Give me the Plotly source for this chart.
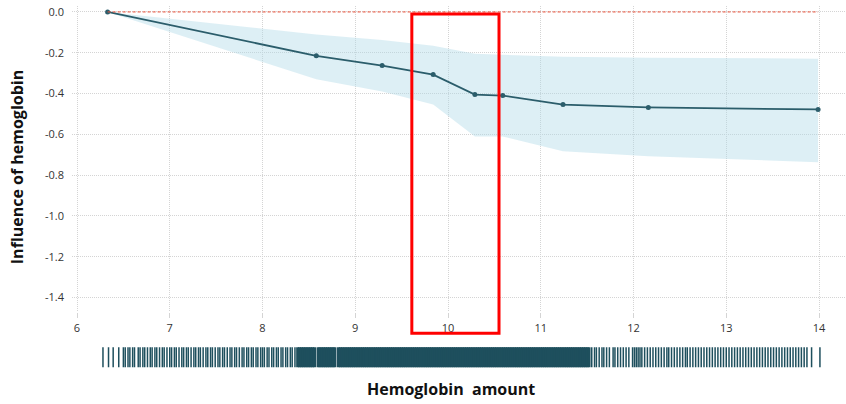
import plotly.graph_objects as go

# ---- data ----
hb_x = [6.33, 8.58, 9.29, 9.84, 10.29, 10.59, 11.24, 12.16, 13.99]
effect = [0.0, -0.215, -0.263, -0.307, -0.405, -0.41, -0.454, -0.468, -0.478]
ci_upper = [0.0, -0.11, -0.137, -0.166, -0.205, -0.21, -0.22, -0.224, -0.229]
ci_lower = [0.0, -0.33, -0.39, -0.454, -0.61, -0.61, -0.683, -0.707, -0.737]

rug_left = [6.28, 6.34, 6.39, 6.45, 6.50, 6.52, 6.55, 6.57, 6.60, 6.62, 6.66, 6.68,
            6.71, 6.73, 6.76, 6.79, 6.81, 6.84, 6.86, 6.89, 6.92, 6.94, 6.97, 7.00,
            7.02, 7.05, 7.07, 7.10, 7.13, 7.15, 7.18, 7.20, 7.23, 7.26, 7.28, 7.31,
            7.33, 7.36, 7.39, 7.41, 7.44, 7.46, 7.49, 7.52, 7.54, 7.57, 7.59, 7.62,
            7.65, 7.67, 7.70, 7.72, 7.75, 7.78, 7.80, 7.83, 7.85, 7.88, 7.90, 7.93,
            7.95, 7.98, 8.00, 8.02, 8.05, 8.07, 8.10, 8.12, 8.15, 8.17, 8.20, 8.22,
            8.25, 8.27, 8.30, 8.32, 8.35]
rug_mid = [8.38, 8.40, 8.42, 8.44, 8.46, 8.48, 8.50, 8.52, 8.54, 8.56,
           8.60, 8.62, 8.64, 8.66, 8.68, 8.70, 8.72, 8.74, 8.76, 8.78,
           8.82, 8.84, 8.86, 8.88, 8.90, 8.92, 8.94, 8.96, 8.98, 9.00,
           9.02, 9.04, 9.06, 9.08, 9.10, 9.12, 9.14, 9.16, 9.18, 9.20,
           9.22, 9.24, 9.26, 9.28, 9.30, 9.32, 9.34, 9.36, 9.38, 9.40,
           9.42, 9.44, 9.46, 9.48, 9.50, 9.52, 9.54, 9.56, 9.58, 9.60,
           9.62, 9.64, 9.66, 9.68, 9.70, 9.72, 9.74, 9.76, 9.78, 9.80,
           9.82, 9.84, 9.86, 9.88, 9.90, 9.92, 9.94, 9.96, 9.98, 10.00,
           10.02, 10.04, 10.06, 10.08, 10.10, 10.12, 10.14, 10.16, 10.18, 10.20,
           10.22, 10.24, 10.26, 10.28, 10.30, 10.32, 10.34, 10.36, 10.38, 10.40,
           10.42, 10.44, 10.46, 10.48, 10.50, 10.52, 10.54, 10.56, 10.58, 10.60,
           10.62, 10.64, 10.66, 10.68, 10.70, 10.72, 10.74, 10.76, 10.78, 10.80,
           10.82, 10.84, 10.86, 10.88, 10.90, 10.92, 10.94, 10.96, 10.98, 11.00,
           11.02, 11.04, 11.06, 11.08, 11.10, 11.12, 11.14, 11.16, 11.18, 11.20,
           11.22, 11.24, 11.26, 11.28, 11.30, 11.32, 11.34, 11.36, 11.38, 11.40,
           11.42, 11.44, 11.46, 11.48, 11.50, 11.52]
rug_right = [11.55, 11.58, 11.60, 11.63, 11.66, 11.68, 11.71, 11.74, 11.78, 11.80,
             11.83, 11.86, 11.89, 11.92, 11.95, 11.99, 12.01, 12.03, 12.05, 12.07,
             12.09, 12.12, 12.15, 12.18, 12.21, 12.24, 12.27, 12.30, 12.33, 12.36,
             12.38, 12.41, 12.44, 12.47, 12.50, 12.53, 12.56, 12.58, 12.61, 12.64,
             12.67, 12.70, 12.73, 12.76, 12.79, 12.82, 12.85, 12.88, 12.91, 12.94,
             12.97, 13.00, 13.03, 13.06, 13.09, 13.12, 13.15, 13.18, 13.21, 13.24,
             13.27, 13.30, 13.33, 13.36, 13.39, 13.42, 13.45, 13.48, 13.51, 13.54,
             13.57, 13.60, 13.63, 13.66, 13.69, 13.72, 13.75, 13.78, 13.81, 13.84,
             13.87, 13.92, 14.01]

highlight_range = [9.61, 10.55]

x_ticks = [6, 7, 8, 9, 10, 11, 12, 13, 14]
y_ticks = [0.0, -0.2, -0.4, -0.6, -0.8, -1.0, -1.2, -1.4]
y_ticktext = ["0.0", "-0.2", "-0.4", "-0.6", "-0.8", "-1.0", "-1.2", "-1.4"]

# ---- styling ----
W, H = 846, 404
FONT = "Open Sans"
DARK = "#2b5d6b"
RUG = "#1e4f5d"
BAND = "rgba(173,216,230,0.42)"
GRID = "#d4d4d4"

def py(px):  # pixel row -> paper fraction
    return 1 - px / H

fig = go.Figure()

fig.add_trace(go.Scatter(x=hb_x, y=ci_upper, mode="lines", line=dict(width=0),
                         hoverinfo="skip", showlegend=False))
fig.add_trace(go.Scatter(x=hb_x, y=ci_lower, mode="lines", line=dict(width=0),
                         fill="tonexty", fillcolor=BAND, hoverinfo="skip", showlegend=False))
fig.add_trace(go.Scatter(x=hb_x, y=effect, mode="lines+markers",
                         line=dict(color=DARK, width=1.8),
                         marker=dict(color=DARK, size=5), showlegend=False))

# rug: sparse tails thin, dense core drawn wider so neighbouring ticks merge
for vals, w in ((rug_left, 1.5), (rug_mid, 3.2), (rug_right, 1.5)):
    fig.add_trace(go.Scatter(x=vals, y=[0.5] * len(vals), mode="markers",
                             xaxis="x2", yaxis="y2",
                             marker=dict(symbol="line-ns", size=20,
                                         line=dict(color=RUG, width=w)),
                             showlegend=False, hoverinfo="x"))

# zero reference line
fig.add_shape(type="line", xref="x", yref="y", x0=hb_x[0], x1=hb_x[-1], y0=0, y1=0,
              line=dict(color="#e8503a", width=1, dash="3px,2px"))
# highlight rectangle
fig.add_shape(type="rect", xref="x", yref="paper",
              x0=highlight_range[0], x1=highlight_range[1], y0=py(333), y1=py(12),
              line=dict(color="#ff0000", width=3), fillcolor="rgba(0,0,0,0)")

x_range = [6 - 5 / 92.75, 6 + (846 - 77) / 92.75]
y_top, y_bot = 4, 312
y_range = [-(y_bot - 10) / 205, (10 - y_top) / 205]

fig.update_layout(
    width=W, height=H,
    margin=dict(l=0, r=0, t=0, b=0),
    paper_bgcolor="white", plot_bgcolor="white",
    font=dict(family=FONT, size=11, color="#333"),
    xaxis=dict(domain=[72 / W, 1], range=x_range, anchor="y",
               tickvals=x_ticks, ticktext=[str(v) for v in x_ticks],
               showgrid=True, gridcolor=GRID, griddash="1px,1px", gridwidth=1,
               zeroline=False, showline=False,
               ticks="outside", ticklen=5, tickcolor=GRID,
               tickfont=dict(family=FONT, size=11, color="#333")),
    yaxis=dict(domain=[py(y_bot), py(y_top)], range=y_range, anchor="x",
               tickvals=y_ticks, ticktext=y_ticktext,
               showgrid=True, gridcolor=GRID, griddash="1px,1px", gridwidth=1,
               zeroline=False, showline=False, ticks="", ticklabelstandoff=7,
               tickfont=dict(family=FONT, size=11, color="#333")),
    xaxis2=dict(domain=[72 / W, 1], range=x_range, anchor="y2", matches="x",
                visible=False, showgrid=False),
    yaxis2=dict(domain=[py(367), py(347)], range=[0, 1], anchor="x2",
                visible=False, showgrid=False),
    annotations=[
        dict(text="<b>Hemoglobin  amount</b>", x=451 / W, y=py(389),
             xref="paper", yref="paper", showarrow=False,
             xanchor="center", yanchor="middle",
             font=dict(family=FONT, size=16, color="#111")),
        dict(text="<b>Influence of hemoglobin</b>", x=17 / W, y=py(166),
             xref="paper", yref="paper", showarrow=False, textangle=-90,
             xanchor="center", yanchor="middle",
             font=dict(family=FONT, size=16, color="#111")),
    ],
)

fig.write_html("out.html")
